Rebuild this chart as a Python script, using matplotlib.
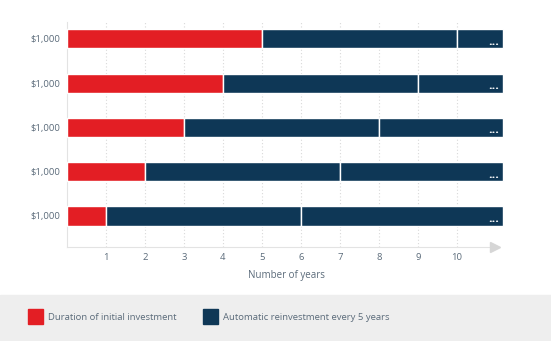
import matplotlib
matplotlib.use("Agg")
import matplotlib.pyplot as plt
from matplotlib.patches import Rectangle

# data
row_labels = ["$1,000", "$1,000", "$1,000", "$1,000", "$1,000"]
initial_years = [5, 4, 3, 2, 1]  # top to bottom
reinvest_period = 5
bar_end = 11.18
year_ticks = [1, 2, 3, 4, 5, 6, 7, 8, 9, 10]
legend_labels = ["Duration of initial investment", "Automatic reinvestment every 5 years"]

RED = "#e31e24"
NAVY = "#0e3756"
TEXT = "#5b6b7a"
GRID = "#d9d9d9"

plt.rcParams["font.family"] = ["Open Sans", "DejaVu Sans"]

fig = plt.figure(figsize=(5.51, 3.41), dpi=100)
W, H = 551, 341
ax = fig.add_axes([67 / W, (H - 247) / H, 440 / W, 225 / H])

ypos = list(range(len(initial_years)))[::-1]
height = 0.43
for y, init in zip(ypos, initial_years):
    first = init + reinvest_period
    ax.barh(y, init, left=0, height=height, color=RED, edgecolor="white", linewidth=1, zorder=3)
    ax.barh(y, reinvest_period, left=init, height=height, color=NAVY,
            edgecolor="white", linewidth=1, zorder=3)
    ax.barh(y, bar_end - first, left=first, height=height, color=NAVY,
            edgecolor="white", linewidth=1, zorder=3)
    # white "..." marking that the bar continues
    ax.annotate("...", xy=(bar_end, y - height / 2), xytext=(-3, 0.5),
                textcoords="offset points", ha="right", va="bottom",
                color="white", fontsize=9, fontweight="bold", zorder=4)

ax.set_xlim(0, 440 / 39)
ax.set_ylim(-0.70, 4.38)
ax.set_yticks(ypos)
ax.set_yticklabels(row_labels)
ax.set_xticks(year_ticks)
ax.set_xticklabels([str(t) for t in year_ticks])
ax.tick_params(length=0, labelsize=6.8, colors=TEXT)
ax.tick_params(axis="y", pad=5)
ax.tick_params(axis="x", pad=4)
for t in year_ticks:
    ax.axvline(t, color=GRID, linestyle=(0, (1, 2)), linewidth=0.8, zorder=1)

for side in ["top", "right"]:
    ax.spines[side].set_visible(False)
ax.spines["left"].set_color("#e3e3e3")
ax.spines["bottom"].set_color("#e3e3e3")
ax.spines["bottom"].set_bounds(0, 10.95)
ax.plot([10.97], [-0.70], marker=">", color="#d6d6d6", markersize=7,
        clip_on=False, zorder=5)

ax.set_xlabel("Number of years", fontsize=7, color=TEXT, labelpad=6)

# legend band
fig.patches.append(Rectangle((0, 0), 1, 46 / H, transform=fig.transFigure,
                             color="#eeeeee", zorder=0))
legend_x = [28, 203]
for x, label, color in zip(legend_x, legend_labels, [RED, NAVY]):
    fig.patches.append(Rectangle((x / W, (H - 324) / H), 15 / W, 15 / H,
                                 transform=fig.transFigure, color=color, zorder=1))
    fig.text((x + 20) / W, (H - 317) / H, label, fontsize=6.8, color=TEXT,
             va="center", ha="left")

fig.savefig("out.png", dpi=100)
